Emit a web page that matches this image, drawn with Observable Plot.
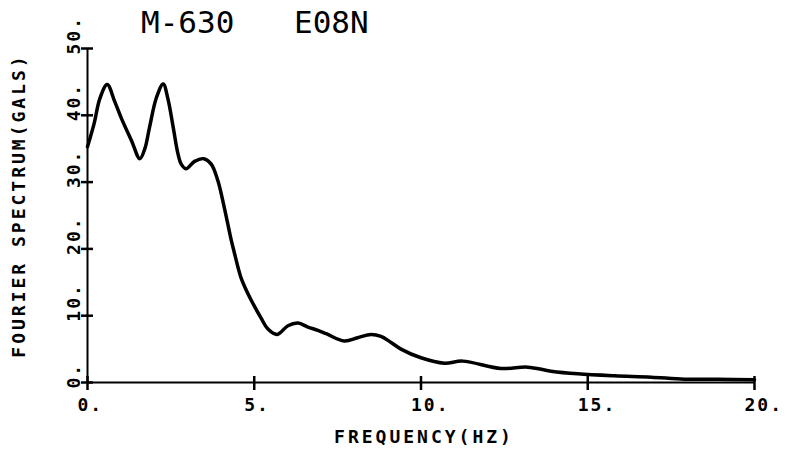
<!DOCTYPE html>
<html><head><meta charset="utf-8">
<script src="https://cdn.jsdelivr.net/npm/d3@7"></script>
<script src="https://cdn.jsdelivr.net/npm/@observablehq/plot@0.6"></script>
<style>
body{margin:0;background:#fff;}
#wrap{position:relative;width:785px;height:452px;}
#title{position:absolute;left:0;top:0;width:785px;height:40px;font-family:"DejaVu Sans Mono",monospace;font-size:31px;line-height:31px;color:#000;}
#title span{position:absolute;top:7px;white-space:pre;}
#chart svg text{letter-spacing:3px;}
#chart svg g.ticklab text{letter-spacing:2px;}
</style></head><body>
<div id="wrap"><div id="chart"></div><div id="title"><span style="left:141px">M-630</span><span style="left:294px">E08N</span></div></div>
<script>
const titleParts = ["M-630", "E08N"];
const xLabel = "FREQUENCY(HZ)";
const yLabel = "FOURIER SPECTRUM(GALS)";
const xTicks = [0, 5, 10, 15, 20];
const yTicks = [0, 10, 20, 30, 40, 50];
const freq = [0, 0.2, 0.37, 0.59, 0.82, 1.02, 1.32, 1.57, 1.72, 1.86, 2.07, 2.27, 2.41, 2.57, 2.71, 2.81, 2.96, 3.21, 3.49, 3.71, 3.91, 4.11, 4.31, 4.41, 4.61, 4.91, 5.21, 5.41, 5.69, 6.01, 6.31, 6.61, 6.91, 7.16, 7.7, 8.1, 8.5, 8.8, 9.1, 9.4, 10.0, 10.7, 11.25, 12.4, 13.2, 13.9, 14.7, 15.8, 16.9, 17.9, 18.9, 20];
const amp  = [35.3, 38.8, 42.5, 44.6, 42.0, 39.5, 36.2, 33.5, 35.0, 38.2, 42.7, 44.7, 42.5, 38.2, 34.3, 32.7, 32.0, 33.1, 33.5, 32.7, 30.2, 26.0, 21.3, 19.3, 15.6, 12.3, 9.6, 8.0, 7.2, 8.5, 8.9, 8.3, 7.8, 7.3, 6.2, 6.7, 7.2, 6.9, 6.0, 5.0, 3.7, 2.9, 3.2, 2.1, 2.3, 1.7, 1.3, 1.0, 0.8, 0.5, 0.5, 0.4];
const data = freq.map((f, i) => ({f, a: amp[i]}));

const W = 785, H = 452, mL = 87, mR = 31, mT = 48, mB = 70;
const xDomain = [0, 20], yDomain = [0, 50];
const ink = "#000";

const chart = Plot.plot({
  width: W, height: H,
  marginLeft: mL, marginRight: mR, marginTop: mT, marginBottom: mB,
  x: {domain: xDomain, axis: null},
  y: {domain: yDomain, axis: null},
  style: {fontFamily: "'DejaVu Sans Mono', monospace", fontWeight: "bold", fontSize: "18px", color: ink, background: "#fff"},
  marks: [
    Plot.ruleY([0], {stroke: ink, strokeWidth: 2}),
    Plot.ruleX([0], {stroke: ink, strokeWidth: 2}),
    Plot.ruleX(xTicks, {y1: -1.2, y2: 0.9, stroke: "black", strokeWidth: 2.5}),
    Plot.ruleY(yTicks, {x1: -0.18, x2: 0.18, stroke: "black", strokeWidth: 2.5}),
    Plot.line(data, {x: "f", y: "a", curve: "catmull-rom", stroke: ink, strokeWidth: 3.5}),
    Plot.text(xTicks, {x: d => d, text: d => d + ".", frameAnchor: "bottom", textAnchor: "start", lineAnchor: "bottom", dx: -10, dy: 28, fill: ink, className: "ticklab"}),
    Plot.text(yTicks, {y: d => d, text: d => d + ".", frameAnchor: "left", rotate: -90, textAnchor: "start", lineAnchor: "bottom", dx: -8, dy: 6, fill: ink, className: "ticklab"}),
    Plot.text([xLabel], {text: d => d, frameAnchor: "bottom", lineAnchor: "bottom", dx: 3, dy: 60, fill: ink}),
    Plot.text([yLabel], {text: d => d, frameAnchor: "left", rotate: -90, textAnchor: "middle", lineAnchor: "middle", dx: -68, dy: -10, fill: ink})
  ]
});
document.getElementById("chart").appendChild(chart);
const spans = document.querySelectorAll("#title span");
spans[0].textContent = titleParts[0];
spans[1].textContent = titleParts[1];
</script>
</body></html>
